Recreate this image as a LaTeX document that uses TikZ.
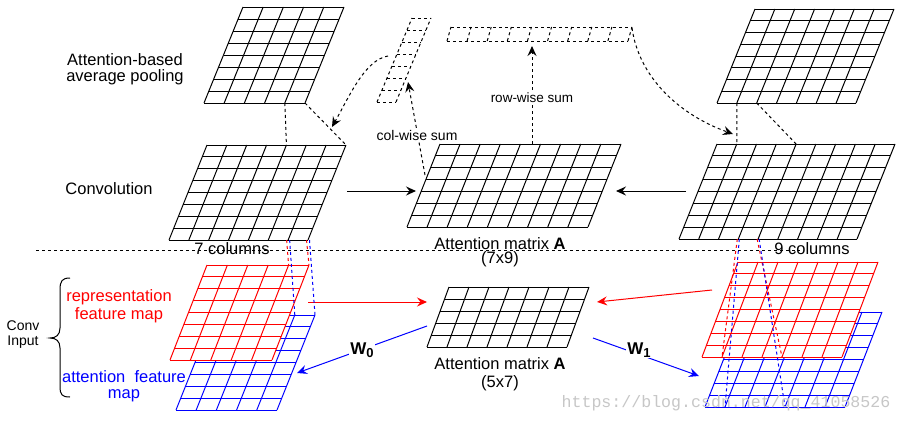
\documentclass[tikz,border=0pt]{standalone}
\usepackage{fontspec}
\setmainfont{Liberation Sans}
\setmonofont{Liberation Mono}
\usetikzlibrary{calc,arrows.meta}

\newcommand\pgrid[8]{% #1 name, #2 line style, #3 bottom-left, #4 top-left, #5 width, #6 cols, #7 rows, #8 fill
  \coordinate (#1-bl) at #3;
  \coordinate (#1-tl) at #4;
  \coordinate (#1-br) at ($(#1-bl)+(#5,0)$);
  \coordinate (#1-tr) at ($(#1-tl)+(#5,0)$);
  \fill[#8] (#1-bl)--(#1-br)--(#1-tr)--(#1-tl)--cycle;
  \foreach \k in {0,...,#6}{\draw[#2] ($(#1-bl)!\k/#6!(#1-br)$) -- ($(#1-tl)!\k/#6!(#1-tr)$);}
  \foreach \k in {0,...,#7}{\draw[#2] ($(#1-bl)!\k/#7!(#1-tl)$) -- ($(#1-br)!\k/#7!(#1-tr)$);}
}

\tikzset{
  blk/.style={line width=1pt, black},
  dsh/.style={line width=1pt, black, dash pattern=on 3pt off 3pt},
  redg/.style={line width=1pt, red},
  blug/.style={line width=1pt, blue},
  rdsh/.style={line width=1pt, red, dash pattern=on 3pt off 3pt},
  bdsh/.style={line width=1pt, blue, dash pattern=on 3pt off 3pt},
  arr/.style={-{Stealth[length=10pt,width=9pt,inset=3.5pt]}},
  lab/.style={font=\fontsize{16.5}{19}\selectfont, inner sep=0pt},
  slab/.style={font=\fontsize{14}{16}\selectfont, inner sep=0pt},
  wlab/.style={font=\fontsize{17}{19}\selectfont\bfseries, inner sep=1pt, fill=white},
}

\begin{document}
\begin{tikzpicture}[x=1pt,y=-1pt]
\useasboundingbox (0,0) rectangle (902,423);
\fill[white] (0,0) rectangle (902,423);

% separator
\coordinate (sepL) at (36,250.7);
\coordinate (sepR) at (800,250.7);
\draw[dsh] (sepL) -- (sepR);

% grids
\pgrid{pool}{blk}{(204,103)}{(243,7)}{101}{5}{8}{white}
\pgrid{convL}{blk}{(169,240)}{(207,145)}{139}{7}{8}{white}
\pgrid{attA}{blk}{(407,227)}{(440,144)}{181}{9}{7}{white}
\pgrid{convR}{blk}{(679,239)}{(717,144)}{178}{9}{8}{white}
\pgrid{poolR}{blk}{(717,103)}{(755,9)}{139}{7}{8}{white}
\pgrid{colvec}{dsh}{(377,102)}{(412,18)}{19}{1}{7}{white}
\pgrid{rowvec}{dsh}{(447,41)}{(451,27)}{181}{9}{1}{white}
\pgrid{blueL}{blug}{(176,410)}{(214,315)}{101}{5}{8}{white}
\pgrid{redL}{redg}{(170,360)}{(207,265)}{102}{5}{8}{white}
\pgrid{attB}{blk}{(427,347)}{(449,287)}{140}{7}{5}{white}
\pgrid{blueR}{blug}{(705,407)}{(742,312)}{140}{7}{8}{white}
\pgrid{redR}{redg}{(702,357)}{(738,262)}{140}{7}{8}{white}

% pooling connectors
\draw[dsh] ($(pool-bl)!4/5!(pool-br)$) -- ($(convL-tl)!4/7!(convL-tr)$);
\draw[dsh] (pool-br) -- (convL-tr);
\draw[dsh] ($(poolR-bl)!1/7!(poolR-br)$) -- ($(convR-tl)!1/9!(convR-tr)$);
\draw[dsh] ($(poolR-bl)!2/7!(poolR-br)$) -- ($(convR-tl)!4/9!(convR-tr)$);

% curved arrows
\coordinate (cs) at (388,56);
\coordinate (ce) at (332,127);
\draw[dsh,arr] (cs) .. controls (365,60) and (350,95) .. (ce);
\coordinate (rs) at (632,28);
\coordinate (re) at (733,134);
\draw[dsh,arr] (rs) .. controls (639,78) and (680,115) .. (re);

% horizontal arrows
\coordinate (hl1) at (347,191); \coordinate (hl2) at (416,191);
\draw[blk,arr] (hl1) -- (hl2);
\coordinate (hr1) at (686,191); \coordinate (hr2) at (616,191);
\draw[blk,arr] (hr1) -- (hr2);

% col-wise / row-wise sums
\coordinate (cw1) at (425,175); \coordinate (cw2) at (408,82);
\draw[dsh,arr] (cw1) -- (cw2);
\node[slab,fill=white,inner sep=1pt] (colwise) at (417,135) {col-wise sum};
\coordinate (rw1) at (532,144); \coordinate (rw2) at (532,46);
\draw[dsh,arr] (rw1) -- (rw2);
\node[font=\fontsize{13.5}{16}\selectfont,fill=white,inner sep=1pt] (rowwise) at (532,98) {row-wise sum};

% labels
\node[lab] (ab1) at (125,60) {Attention-based};
\node[lab] (ab2) at (125,77) {average pooling};
\node[lab] (conv) at (109,189) {Convolution};
\node[lab] (c7) at (232,249) {7 columns};
\node[lab] (c9) at (812,249) {9 columns};
\node[lab,anchor=base] (attAl) at (500,249) {Attention matrix \textbf{A}};
\node[lab] (attAs) at (500,259.5) {(7x9)};
\node[lab] (attBl) at (500,364) {Attention matrix \textbf{A}};
\node[lab] (attBs) at (500,383) {(5x7)};

\node[lab,text=red] (rep1) at (119,297) {representation};
\node[lab,text=red] (rep2) at (119,315) {feature map};
\node[lab,text=blue] (att1) at (124,377) {attention\ \ feature};
\node[lab,text=blue] (att2) at (124,396) {map};
\node[slab] (ci1) at (23,326) {Conv};
\node[slab] (ci2) at (23,342) {Input};

% brace
\draw[line width=1pt] (70,278) .. controls (62,278) and (60,281) .. (60,290) -- (60,328)
  .. controls (60,335) and (56,338) .. (50,338)
  .. controls (56,338) and (60,341) .. (60,348) -- (60,386)
  .. controls (60,395) and (62,397) .. (70,397);

% bottom arrows
\coordinate (rl1) at (308,302); \coordinate (rl2) at (427,302);
\draw[redg,arr] (rl1) -- (rl2);
\coordinate (rr1) at (712,290); \coordinate (rr2) at (597,302);
\draw[redg,arr] (rr1) -- (rr2);
\coordinate (w01) at (427,326); \coordinate (w02) at (297,373);
\draw[blug,arr] (w01) -- (w02);
\node[wlab] (w0) at (362,350) {W\raisebox{-0.35ex}{\fontsize{13}{14}\selectfont 0}};
\coordinate (w11) at (593,338); \coordinate (w12) at (699,376);
\draw[blug,arr] (w11) -- (w12);
\node[wlab] (w1) at (639,350) {W\raisebox{-0.35ex}{\fontsize{13}{14}\selectfont 1}};

% conv -> input dashed
\draw[rdsh] ($($(convL-bl)!6/7!(convL-br)$)+(-1.5,0)$) -- ($(redL-tl)!4/5!(redL-tr)$);
\draw[rdsh] ($(convL-br)+(-1.5,0)$) -- (redL-tr);
\draw[bdsh] ($($(convL-bl)!6/7!(convL-br)$)+(1.5,0)$) -- ($(blueL-tl)!4/5!(blueL-tr)$);
\draw[bdsh] ($(convL-br)+(1.5,0)$) -- (blueL-tr);

\draw[rdsh] ($($(convR-bl)!3/9!(convR-br)$)+(-1,0)$) -- ($(redR-bl)!1/7!(redR-br)$);
\draw[rdsh] ($($(convR-bl)!4/9!(convR-br)$)+(-1,0)$) -- ($(redR-bl)!4/7!(redR-br)$);
\draw[bdsh] ($($(convR-bl)!3/9!(convR-br)$)+(1,0)$) -- ($(blueR-bl)!1/7!(blueR-br)$);
\draw[bdsh] ($($(convR-bl)!4/9!(convR-br)$)+(1,0)$) -- ($(blueR-bl)!4/7!(blueR-br)$);

% watermark
\node[font=\ttfamily\fontsize{16.6}{18}\selectfont, text=black!22, inner sep=0pt] (wm) at (726,403) {https://blog.csdn.net/qq\_41058526};
\end{tikzpicture}
\end{document}
